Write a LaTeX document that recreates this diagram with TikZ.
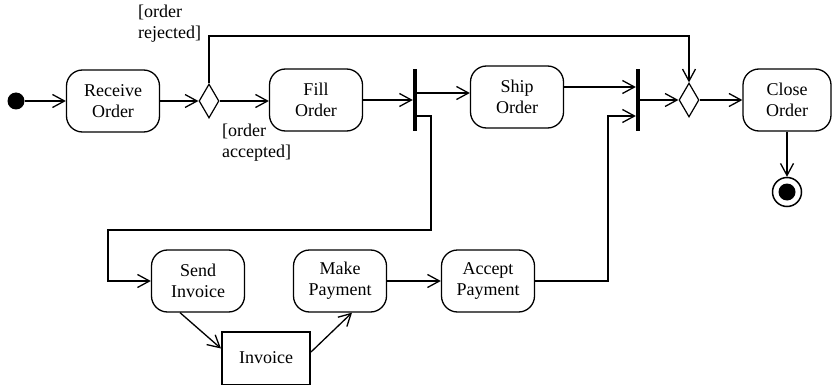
\documentclass[tikz,border=0pt]{standalone}
\usepackage{fontspec}
\setmainfont{Liberation Serif}
\usetikzlibrary{arrows.meta,shapes.geometric,calc}
\begin{document}
\begin{tikzpicture}[x=1pt,y=-1pt,
  txt/.style={font=\fontsize{18}{21}\selectfont},
  act/.style={txt,draw,line width=1.3pt,rounded corners=16pt,minimum width=93pt,minimum height=62pt,align=center,inner sep=2pt},
  bar/.style={fill=black,minimum width=4pt,minimum height=62pt,inner sep=0pt},
  dec/.style={draw,diamond,line width=1.2pt,minimum width=20pt,minimum height=34pt,inner sep=0pt},
  arr/.style={line width=1.3pt,-{Straight Barb[length=12pt,width=13pt,line width=1.3pt]}},
  thk/.style={line width=2.3pt},
  lbl/.style={txt,align=left,inner sep=0pt,anchor=north west}]
\useasboundingbox (0,0) rectangle (832,385);
% nodes
\node[circle,fill=black,minimum size=17pt,inner sep=0pt] (start) at (16,101) {};
\node[act] (recv) at (113,101) {Receive\\Order};
\node[dec] (d1) at (209,101) {};
\node[act] (fill) at (316,100) {Fill\\Order};
\node[bar] (fork) at (415,100) {};
\node[act] (ship) at (517,97) {Ship\\Order};
\node[bar] (join) at (638,100) {};
\node[dec] (d2) at (689,100) {};
\node[act,minimum width=88pt] (close) at (787,100) {Close\\Order};
\node[circle,draw,line width=1.5pt,minimum size=29pt,inner sep=0pt] (end) at (787,192) {};
\node[circle,fill=black,minimum size=17pt,inner sep=0pt] (endin) at (end) {};
\node[act] (send) at (198,281) {Send\\Invoice};
\node[act] (make) at (340,281) {Make\\Payment};
\node[act] (accept) at (488,281) {Accept\\Payment};
\node[txt,draw,line width=2pt,minimum width=88pt,minimum height=53pt] (inv) at (266,358) {Invoice};
\node[lbl] (rej) at (138,5) {[order\\rejected]};
\node[lbl] (acc) at (222,124) {[order\\accepted]};
% helper coordinates
\coordinate (top) at (0,36);
\coordinate (fk1) at (431,116);
\coordinate (fk2) at (431,230);
\coordinate (fk3) at (108,230);
\coordinate (jn1) at (608,116);
% connectors
\draw[arr] (start) -- (recv);
\draw[arr] (recv) -- (d1);
\draw[arr,thk] (d1.east) -- (fill.west |- d1.east);
\draw[arr] (d1.north) -- (d1.north |- top) -| (d2.north);
\draw[arr,thk] (fill.east |- fork) -- (fork.west);
\draw[arr,thk] (fork.east |- 0,93) -- (ship.west |- 0,93);
\draw[arr,thk] (fork.east |- fk1) -- (fk1) -- (fk2) -- (fk3) |- (send.west);
\draw[arr] (ship.east |- 0,87) -- (join.west |- 0,87);
\draw[arr,thk] (accept.east) -| (jn1) -- (join.west |- jn1);
\draw[arr] (join.east |- d2) -- (d2.west);
\draw[arr] (d2.east) -- (close.west |- d2.east);
\draw[arr] (close.south) -- (end.north);
\draw[arr] ($(send.south)+(-18,0)$) -- ($(inv.north west)+(0,18)$);
\draw[arr] ($(inv.east)+(0,-6)$) -- ($(make.south)+(12,0)$);
\draw[arr] (make.east) -- (accept.west);
\end{tikzpicture}
\end{document}
